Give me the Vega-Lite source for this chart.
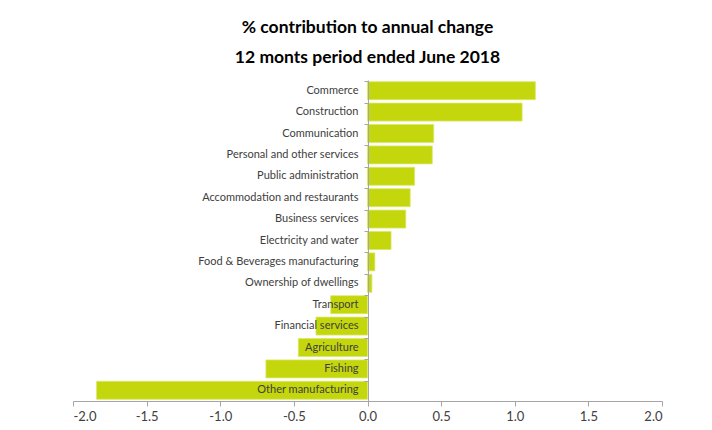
{
  "$schema": "https://vega.github.io/schema/vega-lite/v6.json",
  "autosize": "none",
  "width": 589,
  "height": 321,
  "padding": {"left": 73, "top": 80, "right": 50, "bottom": 29},
  "background": "white",
  "config": {"view": {"stroke": null}, "font": "Lato"},
  "title": {
    "text": ["% contribution to annual change", "12 monts period ended June 2018"],
    "fontSize": 17.5,
    "fontWeight": "bold",
    "lineHeight": 30,
    "color": "#000000",
    "anchor": "middle",
    "offset": 14,
    "font": "Lato"
  },
  "data": {
    "values": [
      {"sector": "Commerce", "value": 1.14},
      {"sector": "Construction", "value": 1.05},
      {"sector": "Communication", "value": 0.45},
      {"sector": "Personal and other services", "value": 0.44},
      {"sector": "Public administration", "value": 0.32},
      {"sector": "Accommodation and restaurants", "value": 0.29},
      {"sector": "Business services", "value": 0.26},
      {"sector": "Electricity and water", "value": 0.16},
      {"sector": "Food & Beverages manufacturing", "value": 0.05},
      {"sector": "Ownership of dwellings", "value": 0.03},
      {"sector": "Transport", "value": -0.25},
      {"sector": "Financial services", "value": -0.35},
      {"sector": "Agriculture", "value": -0.47},
      {"sector": "Fishing", "value": -0.69},
      {"sector": "Other manufacturing", "value": -1.84}
    ]
  },
  "mark": {"type": "bar", "color": "#c4d60c", "stroke": "#dbe86a", "strokeWidth": 0.8},
  "encoding": {
    "y": {
      "field": "sector",
      "type": "nominal",
      "sort": null,
      "title": null,
      "scale": {"paddingInner": 0.16, "paddingOuter": 0.08},
      "axis": {
        "offset": -295,
        "zindex": 1,
        "bandPosition": 0,
        "domainColor": "#a6a6a6",
        "tickColor": "#a6a6a6",
        "tickSize": 4,
        "labelPadding": 6,
        "labelFontSize": 11,
        "labelLimit": 300,
        "labelColor": "#404040",
        "labelFont": "Lato"
      }
    },
    "x": {
      "field": "value",
      "type": "quantitative",
      "title": null,
      "scale": {"domain": [-2, 2], "nice": false, "zero": true},
      "axis": {
        "values": [-2, -1.5, -1, -0.5, 0, 0.5, 1, 1.5, 2],
        "format": ".1f",
        "labelExpr": "replace(datum.label, '\u2212', '-')",
        "grid": false,
        "domainColor": "#a6a6a6",
        "tickColor": "#a6a6a6",
        "tickSize": 5,
        "labelPadding": 4,
        "labelFontSize": 13,
        "labelColor": "#404040",
        "labelFont": "Lato"
      }
    }
  }
}
